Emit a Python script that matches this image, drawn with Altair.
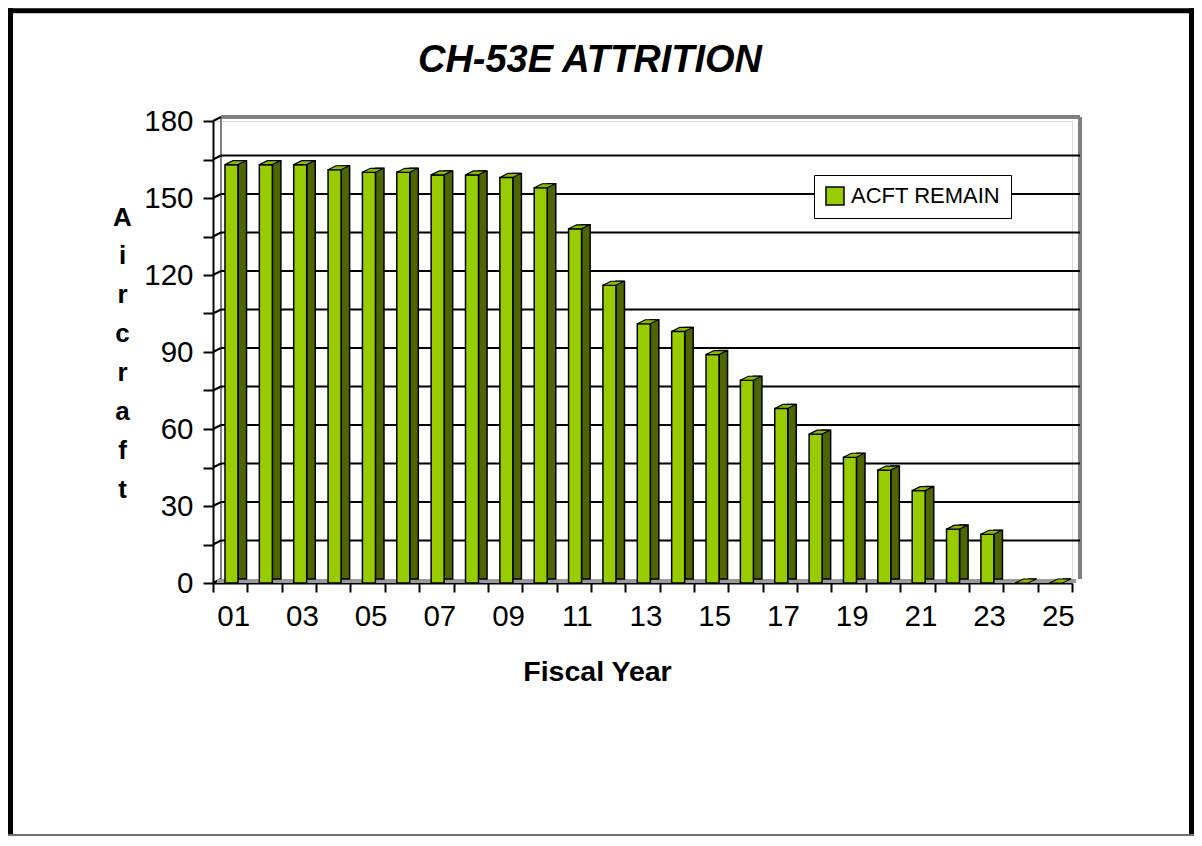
import altair as alt
import pandas as pd

TITLE = "CH-53E ATTRITION"
X_TITLE = "Fiscal Year"
Y_TITLE = "Aircraft"
SERIES = "ACFT REMAIN"
YEARS = ["01", "02", "03", "04", "05", "06", "07", "08", "09", "10", "11", "12", "13",
         "14", "15", "16", "17", "18", "19", "20", "21", "22", "23", "24", "25"]
VALUES = [163, 163, 163, 161, 160, 160, 159, 159, 158, 154, 138, 116, 101,
          98, 89, 79, 68, 58, 49, 44, 36, 21, 19, 0, 0]
Y_TICKS = [0, 15, 30, 45, 60, 75, 90, 105, 120, 135, 150, 165, 180]
GRID = [15, 30, 45, 60, 75, 90, 105, 120, 135, 150, 165]

FRONT = "#99CC00"
SIDE = "#4D6600"
TOP = "#8CBB00"
LABEL_FONT = "Liberation Sans, Arial, Helvetica"
SANS = "Liberation Sans, Arial, Helvetica"

W, H = 859, 462
DX, DY = 8, 4

bars = pd.DataFrame({"year": YEARS, "value": VALUES, "series": [SERIES] * len(YEARS)})
ticks = pd.DataFrame({"v": Y_TICKS})
grid = pd.DataFrame({"v": GRID})
title_df = pd.DataFrame({"t": [TITLE]})

XSCALE = alt.Scale(type="band", domain=YEARS, paddingInner=0, paddingOuter=0)
XAXIS = alt.Axis(
    title=X_TITLE, titleFont=SANS, titleFontSize=28.5, titleFontWeight="bold", titleColor="black",
    titleX=384, titleY=97, titleBaseline="alphabetic", titleAlign="center",
    labelFont=LABEL_FONT, labelFontSize=29.5, labelColor="black", labelAngle=0, labelOverlap=False,
    labelPadding=10, labelOffset=3,
    labelExpr="parseInt(datum.value) % 2 == 1 ? datum.value : ''",
    tickBand="extent", tickSize=9, tickWidth=2, tickColor="black",
    domainColor="black", domainWidth=2, grid=False,
)
YSCALE = alt.Scale(domain=[0, 180], nice=False, zero=True)
YAXIS = alt.Axis(
    title=list(Y_TITLE), titleFont=SANS, titleFontSize=26, titleFontWeight="bold", titleColor="black",
    titleAngle=0, titleAlign="center", titleBaseline="alphabetic", titleX=-91, titleY=104,
    titleLineHeight=38.9,
    values=Y_TICKS, labelExpr="datum.value % 30 == 0 ? datum.value : ''",
    labelFont=LABEL_FONT, labelFontSize=29.5, labelColor="black", labelPadding=10,
    tickSize=10, tickWidth=2, tickColor="black",
    domainColor="black", domainWidth=2, grid=False,
)


def yenc(field):
    return alt.Y(field, type="quantitative", scale=YSCALE, axis=YAXIS)


def xenc():
    return alt.X("year:O", scale=XSCALE, axis=XAXIS)


# back wall
wall_top = alt.Chart(ticks).mark_rule(color="#808080", strokeWidth=3).encode(
    x=alt.value(DX), x2=alt.value(W + DX), y=alt.value(-DY))
wall_right = alt.Chart(ticks).mark_rule(color="#808080", strokeWidth=3).encode(
    x=alt.value(W + DX), y=alt.value(-DY), y2=alt.value(H - DY))
wall_left = alt.Chart(ticks).mark_rule(color="#808080", strokeWidth=2).encode(
    x=alt.value(DX), y=alt.value(-DY), y2=alt.value(H - DY))

gridlines = alt.Chart(grid).mark_rule(color="black", strokeWidth=2, yOffset=-DY).encode(
    y=yenc("v"), x=alt.value(DX), x2=alt.value(W + DX))
diag = alt.Chart(ticks).mark_rule(color="black", strokeWidth=2, y2Offset=-DY).encode(
    y=yenc("v"), y2="v:Q", x=alt.value(0), x2=alt.value(DX))

floor = alt.Chart(ticks).mark_rule(color="#9a9a9a", strokeWidth=4).encode(
    x=alt.value(DX / 2), x2=alt.value(W + DX / 2), y=alt.value(H - DY / 2))

side = alt.Chart(bars).mark_bar(
    width=8.5, xOffset=12.1, yOffset=-DY, y2Offset=0, color=SIDE, stroke="black", strokeWidth=1.5
).encode(x=xenc(), y=yenc("value"))

front = alt.Chart(bars).mark_bar(
    width=13, xOffset=1.3, stroke="black", strokeWidth=1.5
).encode(
    x=xenc(), y=yenc("value"),
    color=alt.Color("series:N", scale=alt.Scale(domain=[SERIES], range=[FRONT]),
                    legend=alt.Legend(
                        title=None, orient="none", legendX=601, legendY=54,
                        strokeColor="black", fillColor="white", padding=10,
                        symbolType="square", symbolSize=324, symbolStrokeColor="black",
                        symbolStrokeWidth=1.5, labelFont=SANS, labelFontSize=22,
                        labelColor="black", labelOffset=5)),
)

TOP_PATH = "M -1.05 0.2 L 0.25 0.2 L 1.05 -0.2 L -0.25 -0.2 Z"
top = alt.Chart(bars).mark_point(
    shape=TOP_PATH, size=400, filled=True, fill=TOP, stroke="black", strokeWidth=1.2,
    opacity=1, xOffset=5.3, yOffset=-2
).encode(x=xenc(), y=yenc("value"))

title = alt.Chart(title_df).mark_text(
    font=SANS, fontSize=38, fontWeight="bold", fontStyle="italic", color="black",
    align="center", baseline="alphabetic"
).encode(text="t:N", x=alt.value(377), y=alt.value(-49))

# outer frame as filled rects (exact bounds)
frame_left = alt.Chart(title_df).mark_rect(color="black").encode(
    x=alt.value(-205), x2=alt.value(-200), y=alt.value(-112.7), y2=alt.value(715))
frame_right = alt.Chart(title_df).mark_rect(color="black").encode(
    x=alt.value(976), x2=alt.value(981), y=alt.value(-112.7), y2=alt.value(715))
frame_top = alt.Chart(title_df).mark_rect(color="black").encode(
    x=alt.value(-205), x2=alt.value(981), y=alt.value(-112.7), y2=alt.value(-107.7))
frame_bottom = alt.Chart(title_df).mark_rect(color="#707070").encode(
    x=alt.value(-205), x2=alt.value(981), y=alt.value(713), y2=alt.value(715))

chart = alt.layer(
    wall_top, wall_right, wall_left, gridlines, diag, floor, side, front, top,
    title, frame_left, frame_right, frame_top, frame_bottom
).properties(width=W, height=H, padding=0).configure_view(strokeWidth=0).configure(background="white")

chart.save("out.html", embed_options={"renderer": "svg", "actions": False})
